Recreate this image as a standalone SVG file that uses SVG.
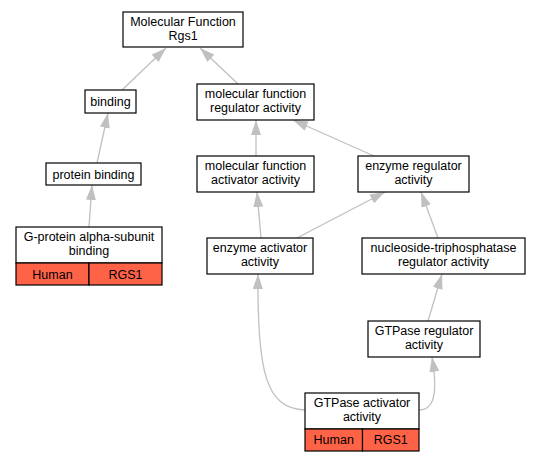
<svg xmlns="http://www.w3.org/2000/svg" width="539" height="461" viewBox="0 0 539 461">
<defs>
<style>
.box{fill:#ffffff;stroke:#000000;stroke-width:1.2}
.red{fill:#ff6347;stroke:#000000;stroke-width:1.2}
.t{font-family:"Liberation Sans",Arial,sans-serif;font-size:12.5px;fill:#000000;text-anchor:middle}
.e{fill:none;stroke:#c0c0c0;stroke-width:1.3;marker-end:url(#arr)}
</style>
<marker id="arr" markerUnits="userSpaceOnUse" viewBox="0 0 15 10" markerWidth="15" markerHeight="10" refX="15" refY="5" orient="auto">
<path d="M0,0 L15,5 L0,10 z" fill="#c0c0c0"/>
</marker>
</defs>
<rect width="539" height="461" fill="#ffffff"/>
<g id="connectors">
<path class="e" d="M122,90 L166,48"/>
<path class="e" d="M238,84 L200,48"/>
<path class="e" d="M97,163 L108,113"/>
<path class="e" d="M89,227 L92,185"/>
<path class="e" d="M256,156 L256,120"/>
<path class="e" d="M374,156 L293,120"/>
<path class="e" d="M261,238 L257,192"/>
<path class="e" d="M297,238 L385,192"/>
<path class="e" d="M438,238 L421,192"/>
<path class="e" d="M428,321 L442,274"/>
<path class="e" d="M305,410 C266,409 257,372 258,274"/>
<path class="e" d="M419,410 C434,410 438,394 432,357"/>
</g>
<g id="n_mf">
<rect class="box" x="123" y="12" width="120" height="35"/>
<text class="t" x="183" y="25.5">Molecular Function</text>
<text class="t" x="183" y="39.5">Rgs1</text>
</g>
<g id="n_binding">
<rect class="box" x="85" y="90" width="51" height="23"/>
<text class="t" x="110.5" y="106">binding</text>
</g>
<g id="n_pb">
<rect class="box" x="46" y="163" width="95" height="22"/>
<text class="t" x="93.5" y="178.5">protein binding</text>
</g>
<g id="n_gp">
<rect class="box" x="16" y="227" width="146" height="36"/>
<rect class="red" x="16" y="263" width="73" height="22"/>
<rect class="red" x="89" y="263" width="73" height="22"/>
<text class="t" x="89" y="240.5">G-protein alpha-subunit</text>
<text class="t" x="89" y="254.5">binding</text>
<text class="t" x="52.5" y="278.5">Human</text>
<text class="t" x="125.5" y="278.5">RGS1</text>
</g>
<g id="n_mfra">
<rect class="box" x="197" y="84" width="117" height="36"/>
<text class="t" x="255.5" y="97.5">molecular function</text>
<text class="t" x="255.5" y="111.5">regulator activity</text>
</g>
<g id="n_mfaa">
<rect class="box" x="197" y="156" width="117" height="36"/>
<text class="t" x="255.5" y="169.5">molecular function</text>
<text class="t" x="255.5" y="183.5">activator activity</text>
</g>
<g id="n_era">
<rect class="box" x="358" y="156" width="111" height="36"/>
<text class="t" x="413.5" y="169.5">enzyme regulator</text>
<text class="t" x="413.5" y="183.5">activity</text>
</g>
<g id="n_eaa">
<rect class="box" x="207" y="238" width="106" height="36"/>
<text class="t" x="260" y="251.5">enzyme activator</text>
<text class="t" x="260" y="265.5">activity</text>
</g>
<g id="n_ntra">
<rect class="box" x="362" y="238" width="163" height="36"/>
<text class="t" x="443.5" y="251.5">nucleoside-triphosphatase</text>
<text class="t" x="443.5" y="265.5">regulator activity</text>
</g>
<g id="n_gtr">
<rect class="box" x="368" y="321" width="112" height="36"/>
<text class="t" x="424" y="334.5">GTPase regulator</text>
<text class="t" x="424" y="348.5">activity</text>
</g>
<g id="n_gta">
<rect class="box" x="305" y="393" width="114" height="36"/>
<rect class="red" x="305" y="429" width="57.5" height="22"/>
<rect class="red" x="362.5" y="429" width="56.5" height="22"/>
<text class="t" x="362" y="406.5">GTPase activator</text>
<text class="t" x="362" y="420.5">activity</text>
<text class="t" x="333.75" y="444">Human</text>
<text class="t" x="390.75" y="444">RGS1</text>
</g>
</svg>
